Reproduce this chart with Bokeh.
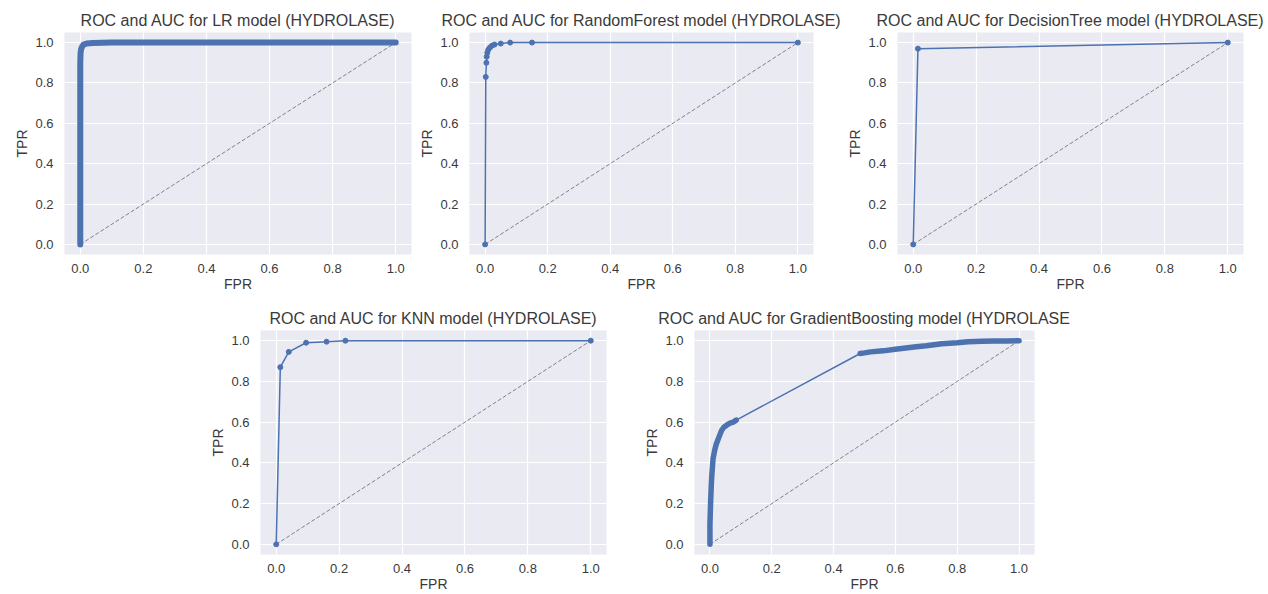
from bokeh.plotting import figure
from bokeh.layouts import column, row
from bokeh.models import Spacer, NumeralTickFormatter, FixedTicker
from bokeh.embed import file_html
from bokeh.resources import INLINE

# ---------------- data ----------------
ticks = [0.0, 0.2, 0.4, 0.6, 0.8, 1.0]
diag = [0.0, 1.0]

titles = [
    "ROC and AUC for LR model (HYDROLASE)",
    "ROC and AUC for RandomForest model (HYDROLASE)",
    "ROC and AUC for DecisionTree model (HYDROLASE)",
    "ROC and AUC for KNN model (HYDROLASE)",
    "ROC and AUC for GradientBoosting model (HYDROLASE",
]

lr_fpr = [0.0, 0.0, 0.0, 0.0, 0.0, 0.0, 0.0, 0.0, 0.0, 0.0, 0.001, 0.003, 0.006, 0.01, 0.02, 0.04, 0.1, 0.3, 0.5, 0.7, 0.9, 1.0]
lr_tpr = [0.0, 0.1, 0.2, 0.3, 0.4, 0.5, 0.6, 0.7, 0.8, 0.9, 0.95, 0.97, 0.98, 0.99, 0.995, 0.998, 1.0, 1.0, 1.0, 1.0, 1.0, 1.0]

rf_fpr = [0.0, 0.002, 0.004, 0.005, 0.007, 0.01, 0.015, 0.022, 0.03, 0.05, 0.08, 0.15, 1.0]
rf_tpr = [0.0, 0.83, 0.90, 0.93, 0.95, 0.965, 0.975, 0.985, 0.99, 0.995, 1.0, 1.0, 1.0]

dt_fpr = [0.0, 0.015, 1.0]
dt_tpr = [0.0, 0.97, 1.0]

knn_fpr = [0.0, 0.013, 0.04, 0.095, 0.16, 0.22, 1.0]
knn_tpr = [0.0, 0.87, 0.945, 0.99, 0.995, 1.0, 1.0]

gb_fpr = [0.0, 0.0, 0.002, 0.004, 0.006, 0.01, 0.015, 0.02, 0.025, 0.03, 0.038, 0.045, 0.054, 0.065, 0.075, 0.085,
          0.486, 0.5, 0.52, 0.56, 0.6, 0.64, 0.667, 0.7, 0.75, 0.8, 0.835, 0.88, 0.92, 0.96, 1.0]
gb_tpr = [0.0, 0.1, 0.2, 0.28, 0.34, 0.42, 0.46, 0.49, 0.51, 0.53, 0.56, 0.575, 0.585, 0.595, 0.6, 0.61,
          0.937, 0.94, 0.945, 0.95, 0.958, 0.965, 0.97, 0.975, 0.985, 0.99, 0.995, 0.997, 0.998, 0.999, 1.0]

# ---------------- styling ----------------
BLUE = "#4C72B0"
BG = "#EAEAF2"
TXT = "#3a3a3a"
FONT = "Liberation Sans"


def make_fig(title, width, height, bl, br, bt, bb):
    p = figure(width=width, height=height, x_range=(-0.05, 1.05), y_range=(-0.05, 1.05),
               output_backend="svg", toolbar_location=None,
               min_border_left=bl, min_border_right=br, min_border_top=bt, min_border_bottom=bb,
               background_fill_color=BG, border_fill_color="white", outline_line_color=None,
               title=title)
    p.title.text_font = FONT
    p.title.text_font_size = "16px"
    p.title.text_font_style = "normal"
    p.title.text_color = TXT
    p.title.align = "center"
    p.title.standoff = 7
    for ax in (p.xaxis[0], p.yaxis[0]):
        ax.ticker = FixedTicker(ticks=ticks)
        ax.formatter = NumeralTickFormatter(format="0.0")
        ax.axis_line_color = None
        ax.major_tick_line_color = None
        ax.minor_tick_line_color = None
        ax.major_tick_out = 0
        ax.major_tick_in = 0
        ax.major_label_text_font = FONT
        ax.major_label_text_font_size = "13px"
        ax.major_label_text_color = TXT
        ax.axis_label_text_font = FONT
        ax.axis_label_text_font_size = "14px"
        ax.axis_label_text_font_style = "normal"
        ax.axis_label_text_color = TXT
    p.xaxis.axis_label = "FPR"
    p.yaxis.axis_label = "TPR"
    p.xaxis.major_label_standoff = 9
    p.xaxis.axis_label_standoff = 0
    p.yaxis.major_label_standoff = 11
    p.yaxis.axis_label_standoff = 2
    p.grid.grid_line_color = "white"
    p.grid.grid_line_width = 1.2
    p.line(diag, diag, line_color="#80808f", line_width=1, line_dash="4 2")
    return p


def split_dense(xs, ys, gap=0.2):
    segs_x, segs_y = [[xs[0]]], [[ys[0]]]
    for i in range(1, len(xs)):
        if xs[i] - xs[i - 1] > gap:
            segs_x.append([])
            segs_y.append([])
        segs_x[-1].append(xs[i])
        segs_y[-1].append(ys[i])
    return segs_x, segs_y


# Top row
p1 = make_fig(titles[0], 413, 294, 64, 2, 32, 38)
p1.line(lr_fpr, lr_tpr, line_color=BLUE, line_width=6, line_join="round", line_cap="round")

p2 = make_fig(titles[1], 430, 294, 56, 30, 32, 38)
p2.line(rf_fpr, rf_tpr, line_color=BLUE, line_width=1.5)
p2.scatter(rf_fpr, rf_tpr, size=5, color=BLUE)

p3 = make_fig(titles[2], 422, 294, 54, 22, 32, 38)
p3.title.offset = -3
p3.line(dt_fpr, dt_tpr, line_color=BLUE, line_width=1.5)
p3.scatter(dt_fpr, dt_tpr, size=5, color=BLUE)

# Bottom row
p4 = make_fig(titles[3], 434, 300, 55, 33, 36, 40)
p4.line(knn_fpr, knn_tpr, line_color=BLUE, line_width=1.5)
p4.scatter(knn_fpr, knn_tpr, size=5, color=BLUE)

p5 = make_fig(titles[4], 435, 300, 55, 40, 36, 40)
p5.line(gb_fpr, gb_tpr, line_color=BLUE, line_width=1.5)
sx, sy = split_dense(gb_fpr, gb_tpr)
p5.multi_line(sx, sy, line_color=BLUE, line_width=5.5, line_join="round", line_cap="round")

layout = column(row(p1, p2, p3), row(Spacer(width=205, height=300), p4, p5))

open("out.html", "w").write(file_html(layout, INLINE))
